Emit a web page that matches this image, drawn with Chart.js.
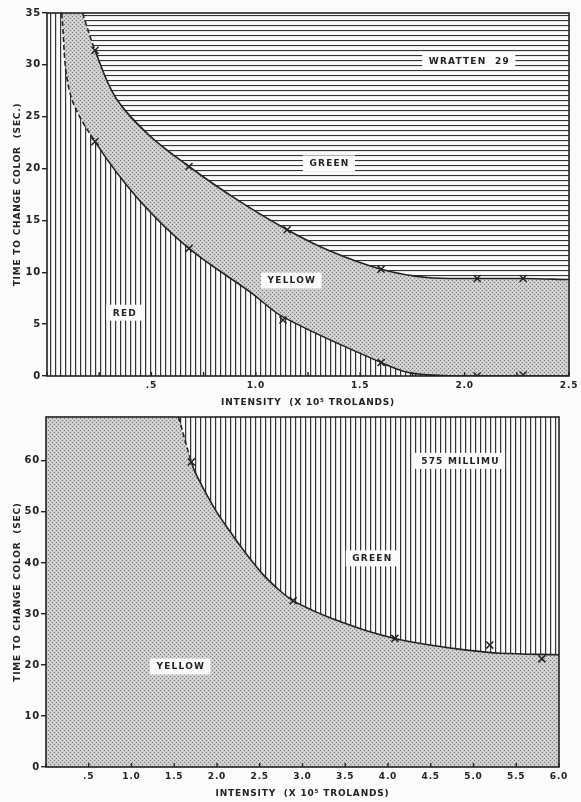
<!DOCTYPE html>
<html>
<head>
<meta charset="utf-8">
<script src="https://cdn.jsdelivr.net/npm/chart.js@4.4.1/dist/chart.umd.min.js"></script>
<style>
  html, body { margin: 0; padding: 0; background: #fbfbf9; }
  body { width: 581px; height: 802px; position: relative; overflow: hidden; }
  .wrap { position: absolute; left: 0; width: 581px; }
  #top { top: 0; height: 410px; }
  #bottom { top: 410px; height: 392px; }
</style>
</head>
<body>
<div class="wrap" id="top"><canvas id="topChart"></canvas></div>
<div class="wrap" id="bottom"><canvas id="bottomChart"></canvas></div>
<script>
// --- top panel: Wratten 29 ---
const topUpperX = [0.17, 0.23, 0.33, 0.49, 0.68, 0.91, 1.15, 1.35, 1.60, 1.82, 2.06, 2.28, 2.50];
const topUpperY = [35, 31.4, 26.8, 23.2, 20.2, 17.0, 14.1, 12.1, 10.3, 9.5, 9.4, 9.4, 9.3];
const topLowerX = [0.07, 0.11, 0.23, 0.44, 0.68, 0.98, 1.13, 1.60, 1.74, 1.95, 2.06, 2.28, 2.50];
const topLowerY = [35, 27.3, 22.6, 17.0, 12.3, 8.0, 5.7, 1.3, 0.3, 0, 0, 0, 0];
const topUpperMarkX = [0.23, 0.68, 1.15, 1.60, 2.06, 2.28];
const topUpperMarkY = [31.4, 20.2, 14.1, 10.3, 9.4, 9.4];
const topLowerMarkX = [0.23, 0.68, 1.13, 1.60, 2.06, 2.28];
const topLowerMarkY = [22.6, 12.3, 5.4, 1.3, 0, 0.1];
const topXTicks = [0, 0.25, 0.5, 0.75, 1.0, 1.25, 1.5, 1.75, 2.0, 2.25, 2.5];
const topXLabels = ['', '', '.5', '', '1.0', '', '1.5', '', '2.0', '', '2.5'];
const topYTicks = [0, 5, 10, 15, 20, 25, 30, 35];

// --- bottom panel: 575 millimu ---
const botCurveX = [1.55, 1.70, 1.76, 1.96, 2.15, 2.35, 2.54, 2.74, 2.89, 3.13, 3.36, 3.75, 4.08, 4.53, 4.92, 5.31, 6.0];
const botCurveY = [68.6, 59.8, 57.2, 51.0, 46.2, 41.6, 37.7, 34.5, 32.6, 30.6, 29.0, 26.7, 25.2, 23.8, 22.9, 22.3, 22.0];
const botMarkX = [1.70, 2.89, 4.08, 5.19, 5.80];
const botMarkY = [59.8, 32.6, 25.2, 23.9, 21.2];
const botXTicks = [0, 0.5, 1.0, 1.5, 2.0, 2.5, 3.0, 3.5, 4.0, 4.5, 5.0, 5.5, 6.0];
const botXLabels = ['', '.5', '1.0', '1.5', '2.0', '2.5', '3.0', '3.5', '4.0', '4.5', '5.0', '5.5', '6.0'];
const botYTicks = [0, 10, 20, 30, 40, 50, 60];

const paper = '#fbfbf9';
const ink = '#222';

const pts = (xs, ys) => xs.map((x, i) => ({ x: x, y: ys[i] }));

function makePattern(w, h, draw) {
    const c = document.createElement('canvas');
    c.width = w; c.height = h;
    const g = c.getContext('2d');
    draw(g, w, h);
    return g.createPattern(c, 'repeat');
}
const vLines = makePattern(5, 5, (g, w, h) => {
    g.fillStyle = paper; g.fillRect(0, 0, w, h);
    g.fillStyle = '#333'; g.fillRect(0, 0, 1.2, h);
});
const hLines = makePattern(5, 5, (g, w, h) => {
    g.fillStyle = paper; g.fillRect(0, 0, w, h);
    g.fillStyle = '#333'; g.fillRect(0, 0, w, 1.1);
});
const stipple = makePattern(4, 4, (g, w, h) => {
    g.fillStyle = '#cbcbca'; g.fillRect(0, 0, w, h);
    g.fillStyle = '#7a7a7a';
    g.fillRect(0, 0, 1, 1); g.fillRect(2, 2, 1, 1);
    g.fillStyle = '#e2e2e0';
    g.fillRect(2, 0, 1, 1); g.fillRect(0, 2, 1, 1);
});

Chart.defaults.font.family = '"DejaVu Sans", sans-serif';
Chart.defaults.font.weight = 'bold';
Chart.defaults.font.size = 9;
Chart.defaults.color = ink;

function curve(data, dashTo) {
    return {
        data: data,
        borderColor: ink,
        borderWidth: 1.6,
        pointRadius: 0,
        tension: 0.35,
        segment: { borderDash: c => c.p1.parsed.x <= dashTo + 1e-9 ? [5, 3] : undefined }
    };
}
function marks(data) {
    return {
        data: data,
        showLine: false,
        fill: false,
        pointStyle: 'crossRot',
        pointRadius: 5,
        pointBorderWidth: 1.5,
        pointBorderColor: ink,
        borderColor: ink,
        backgroundColor: ink
    };
}

function panelPlugin(areaPattern, labels) {
    return {
        id: 'panel',
        beforeDraw(chart) {
            const { ctx, chartArea: a } = chart;
            ctx.letterSpacing = '0.8px';
            ctx.save();
            ctx.fillStyle = areaPattern;
            ctx.fillRect(a.left, a.top, a.right - a.left, a.bottom - a.top);
            ctx.restore();
        },
        afterDatasetsDraw(chart) {
            const { ctx, chartArea: a, scales: { x, y } } = chart;
            ctx.save();
            // inward ticks on the bottom axis
            ctx.strokeStyle = ink;
            ctx.lineWidth = 1.4;
            x.ticks.forEach(t => {
                const px = x.getPixelForValue(t.value);
                ctx.beginPath(); ctx.moveTo(px, a.bottom); ctx.lineTo(px, a.bottom - 4); ctx.stroke();
            });
            ctx.font = 'bold 9px "DejaVu Sans", sans-serif';
            ctx.letterSpacing = '1.2px';
            ctx.textAlign = 'center';
            ctx.textBaseline = 'middle';
            labels.forEach(l => {
                const px = x.getPixelForValue(l.x), py = y.getPixelForValue(l.y);
                const w = ctx.measureText(l.text).width + 12;
                ctx.fillStyle = paper;
                ctx.fillRect(px - w / 2, py - 8, w, 16);
                ctx.fillStyle = ink;
                ctx.fillText(l.text, px + 0.6, py + 0.5);
            });
            ctx.lineWidth = 1.6;
            ctx.strokeRect(a.left, a.top, a.right - a.left, a.bottom - a.top);
            ctx.restore();
        }
    };
}

function axes(opts) {
    return {
        x: {
            type: 'linear', min: opts.xMin, max: opts.xMax,
            afterBuildTicks: s => { s.ticks = opts.xTicks.map(v => ({ value: v })); },
            afterFit: s => { s.height = opts.xHeight; },
            ticks: { callback: (v, i) => opts.xLabels[i], maxRotation: 0, autoSkip: false, padding: 4, font: { size: 9 } },
            grid: { display: false, drawTicks: false },
            border: { display: false },
            title: { display: true, text: 'INTENSITY  (X 10\u2075 TROLANDS)', padding: { top: 2, bottom: opts.xTitlePad }, font: { size: 9 } }
        },
        y: {
            type: 'linear', min: opts.yMin, max: opts.yMax,
            afterBuildTicks: s => { s.ticks = opts.yTicks.map(v => ({ value: v })); },
            afterFit: s => { s.width = opts.yWidth; },
            ticks: { padding: 1, font: { size: 10 } },
            grid: { drawOnChartArea: false, drawTicks: true, tickLength: 5, color: ink, lineWidth: 1.4 },
            border: { display: false },
            title: { display: true, text: opts.yTitle, padding: { top: 12, bottom: 0 }, font: { size: 9 } }
        }
    };
}

const basePlugins = {
    legend: { display: false },
    tooltip: { enabled: false },
    filler: { drawTime: 'beforeDatasetsDraw' }
};

new Chart(document.getElementById('topChart'), {
    type: 'line',
    data: {
        datasets: [
            Object.assign(curve(pts(topUpperX, topUpperY), topUpperMarkX[0]), { fill: 'end', backgroundColor: hLines }),
            Object.assign(curve(pts(topLowerX, topLowerY), topLowerMarkX[0]), { fill: 'end', backgroundColor: stipple }),
            marks(pts(topUpperMarkX, topUpperMarkY)),
            marks(pts(topLowerMarkX, topLowerMarkY))
        ]
    },
    options: {
        responsive: true,
        maintainAspectRatio: false,
        animation: false,
        events: [],
        layout: { padding: { top: 13, right: 4, left: 0, bottom: 0 } },
        plugins: basePlugins,
        scales: axes({
            xMin: 0, xMax: 2.5, xTicks: topXTicks, xLabels: topXLabels, xHeight: 34, xTitlePad: 2,
            yMin: 0, yMax: 35, yTicks: topYTicks, yWidth: 47, yTitle: 'TIME TO CHANGE COLOR  (SEC.)'
        })
    },
    plugins: [panelPlugin(vLines, [
        { text: 'WRATTEN  29', x: 2.02, y: 30.4 },
        { text: 'GREEN', x: 1.35, y: 20.5 },
        { text: 'YELLOW', x: 1.17, y: 9.2 },
        { text: 'RED', x: 0.37, y: 6.1 }
    ])]
});

new Chart(document.getElementById('bottomChart'), {
    type: 'line',
    data: {
        datasets: [
            Object.assign(curve(pts(botCurveX, botCurveY), botMarkX[0]), { fill: 'end', backgroundColor: vLines }),
            marks(pts(botMarkX, botMarkY))
        ]
    },
    options: {
        responsive: true,
        maintainAspectRatio: false,
        animation: false,
        events: [],
        layout: { padding: { top: 5, right: 22, left: 0, bottom: 0 } },
        plugins: basePlugins,
        scales: axes({
            xMin: 0, xMax: 6, xTicks: botXTicks, xLabels: botXLabels, xHeight: 35, xTitlePad: 3,
            yMin: 0, yMax: 68.6, yTicks: botYTicks, yWidth: 46, yTitle: 'TIME TO CHANGE COLOR  (SEC)'
        })
    },
    plugins: [panelPlugin(stipple, [
        { text: '575 MILLIMU', x: 4.84, y: 60.0 },
        { text: 'GREEN', x: 3.81, y: 40.9 },
        { text: 'YELLOW', x: 1.57, y: 19.7 }
    ])]
});
</script>
</body>
</html>
